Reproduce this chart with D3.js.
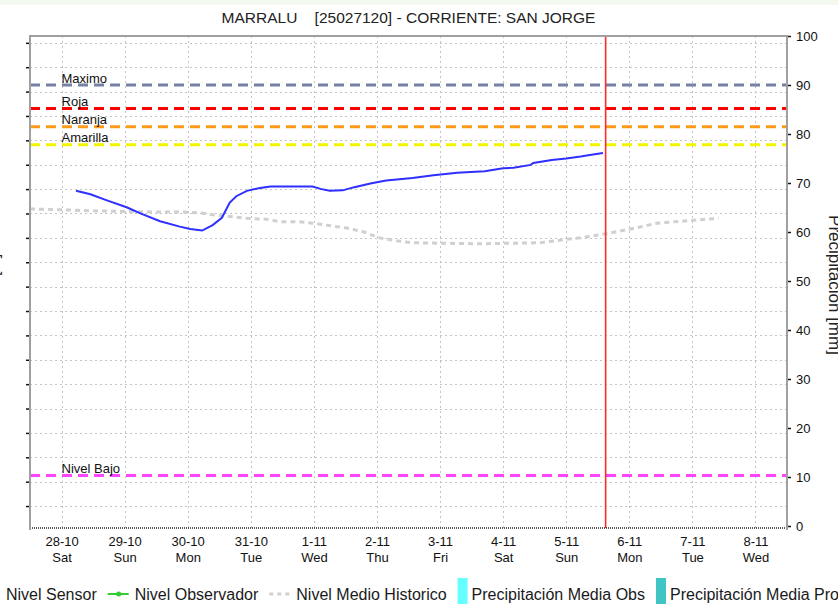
<!DOCTYPE html>
<html>
<head>
<meta charset="utf-8">
<title>MARRALU - Corriente San Jorge</title>
<script src="https://cdn.jsdelivr.net/npm/d3@7"></script>
<style>
  body { margin: 0; background: #fff; }
  svg { display: block; font-family: "Liberation Sans", Arial, sans-serif; }
</style>
</head>
<body>
<svg id="chart" width="838" height="604"></svg>
<script>
// eje X: dias
var dayDates = ["2017-10-28","2017-10-29","2017-10-30","2017-10-31","2017-11-01","2017-11-02",
                "2017-11-03","2017-11-04","2017-11-05","2017-11-06","2017-11-07","2017-11-08"];
var dayLabels = ["28-10","29-10","30-10","31-10","1-11","2-11","3-11","4-11","5-11","6-11","7-11","8-11"];
var dayNames = ["Sat","Sun","Mon","Tue","Wed","Thu","Fri","Sat","Sun","Mon","Tue","Wed"];

// eje derecho (precipitacion) y eje izquierdo (nivel, sin etiquetas)
var rightTicks = [0,10,20,30,40,50,60,70,80,90,100];
var leftTicks = [0,0.5,1,1.5,2,2.5,3,3.5,4,4.5,5,5.5,6,6.5,7,7.5,8,8.5,9,9.5];

// Nivel Sensor
var sensorTimes = ["2017-10-28 05:30","2017-10-28 11:00","2017-10-28 17:00","2017-10-29 01:00","2017-10-29 06:00",
  "2017-10-29 13:30","2017-10-29 21:00","2017-10-30 01:00","2017-10-30 05:30","2017-10-30 09:30","2017-10-30 13:00",
  "2017-10-30 16:00","2017-10-30 18:30","2017-10-30 22:30","2017-10-31 03:30","2017-10-31 07:30","2017-10-31 23:30",
  "2017-11-01 02:30","2017-11-01 06:00","2017-11-01 11:00","2017-11-01 15:00","2017-11-01 21:30","2017-11-02 03:30",
  "2017-11-02 13:30","2017-11-02 21:30","2017-11-03 06:30","2017-11-03 17:00","2017-11-04 00:00","2017-11-04 04:00",
  "2017-11-04 10:30","2017-11-04 11:30","2017-11-04 18:30","2017-11-05 00:00","2017-11-05 05:30","2017-11-05 09:00",
  "2017-11-05 14:00"];
var sensorValues = [68.4,67.7,66.5,65.0,63.8,
  62.2,61.1,60.6,60.3,61.4,62.9,
  66.0,67.3,68.4,69.0,69.3,69.3,
  68.8,68.4,68.5,69.1,69.9,70.5,
  71.0,71.6,72.1,72.4,73.0,73.1,
  73.7,74.1,74.7,75.0,75.4,75.7,
  76.1];

// Nivel Medio Historico
var historicoTimes = ["2017-10-27 12:00","2017-10-28 14:30","2017-10-29 09:30","2017-10-29 21:00","2017-10-30 04:30",
  "2017-10-30 09:30","2017-10-30 17:00","2017-10-30 22:30","2017-10-31 06:00","2017-10-31 11:00","2017-10-31 18:30",
  "2017-10-31 23:30","2017-11-01 12:30","2017-11-01 18:30","2017-11-02 01:00","2017-11-02 07:30","2017-11-02 13:30",
  "2017-11-03 02:30","2017-11-03 15:00","2017-11-04 14:00","2017-11-05 00:00","2017-11-05 06:30","2017-11-05 15:30",
  "2017-11-06 00:30","2017-11-06 10:30","2017-11-07 00:30","2017-11-07 10:00"];
var historicoValues = [64.7,64.3,64.1,64.1,63.9,
  63.5,63.1,62.8,62.6,62.1,62.1,
  61.8,60.8,60.1,58.8,58.2,57.8,
  57.7,57.6,57.8,58.5,58.9,59.7,
  60.6,61.8,62.4,62.8];

// umbrales
var umbralNames = ["Maximo","Roja","Naranja","Amarilla","Nivel Bajo"];
var umbralValues = [90, 85.2, 81.5, 77.8, 10.3];

var nowTime = "2017-11-05 15:00";

var legendNames = ["Nivel Sensor","Nivel Observador","Nivel Medio Historico",
                   "Precipitación Media Obs","Precipitación Media Pronosticada"];

var titleText = "MARRALU    [25027120] - CORRIENTE: SAN JORGE";

// ------------------------------------------------------------------
var svg = d3.select("#chart"),
    margin = {top: 36, right: 51, bottom: 76, left: 30},
    width = +svg.attr("width") - margin.left - margin.right,
    height = +svg.attr("height") - margin.top - margin.bottom,
    g = svg.append("g").attr("transform", "translate(" + margin.left + "," + margin.top + ")");

var parseTime = d3.utcParse("%Y-%m-%d %H:%M");
var parseDay = d3.utcParse("%Y-%m-%d");

var umbralColors = ["#7880a6", "#ff0000", "#ff9a1a", "#f4f400", "#ff44ff"];

// franja superior
svg.insert("rect", "g")
    .attr("width", 838).attr("height", 5)
    .attr("fill", "#f3f9ee");

var x = d3.scaleUtc()
    .domain([parseTime("2017-10-27 12:00"), parseTime("2017-11-08 12:00")])
    .range([0, width]);

var yR = d3.scaleLinear()
    .domain([0, 100])
    .range([height - 2, 0]);

var yL = d3.scaleLinear()
    .domain([-0.45, 9.64])
    .range([height, 0]);

var days = dayDates.map(parseDay);

// rejilla
g.append("g")
    .selectAll("line")
    .data(leftTicks)
    .join("line")
    .attr("x1", 0).attr("x2", width)
    .attr("y1", d => Math.round(yL(d)) + 0.5)
    .attr("y2", d => Math.round(yL(d)) + 0.5)
    .attr("stroke", "#c4c4c4")
    .attr("stroke-dasharray", "2,3");

g.append("g")
    .selectAll("line")
    .data(days)
    .join("line")
    .attr("x1", d => Math.round(x(d)) + 0.5)
    .attr("x2", d => Math.round(x(d)) + 0.5)
    .attr("y1", 0).attr("y2", height)
    .attr("stroke", "#c4c4c4")
    .attr("stroke-dasharray", "2,3");

// umbrales
umbralValues.forEach(function(v, i) {
  g.append("line")
      .attr("x1", 0).attr("x2", width)
      .attr("y1", yR(v)).attr("y2", yR(v))
      .attr("stroke", umbralColors[i])
      .attr("stroke-width", 3)
      .attr("stroke-dasharray", "10,6");
  g.append("text")
      .attr("x", x(days[0]))
      .attr("y", yR(v) - 2.5)
      .attr("font-size", 13)
      .attr("fill", "#111")
      .text(umbralNames[i]);
});

// nivel medio historico
var historico = historicoTimes.map((t, i) => ({date: parseTime(t), value: historicoValues[i]}));
var line = d3.line()
    .x(d => x(d.date))
    .y(d => yR(d.value));

g.append("path")
    .datum(historico)
    .attr("fill", "none")
    .attr("stroke", "#d0d0d0")
    .attr("stroke-width", 3)
    .attr("stroke-dasharray", "5,4")
    .attr("d", line);

// nivel sensor
var sensor = sensorTimes.map((t, i) => ({date: parseTime(t), value: sensorValues[i]}));
g.append("path")
    .datum(sensor)
    .attr("fill", "none")
    .attr("stroke", "#2f2fff")
    .attr("stroke-width", 2)
    .attr("d", line);

// hora actual
g.append("line")
    .attr("x1", x(parseTime(nowTime))).attr("x2", x(parseTime(nowTime)))
    .attr("y1", 0).attr("y2", height)
    .attr("stroke", "#ff2a2a")
    .attr("stroke-width", 1.6);

// bordes
g.append("line")
    .attr("x1", 0).attr("x2", width).attr("y1", 0).attr("y2", 0)
    .attr("stroke", "#a0a0a0").attr("stroke-width", 2);

g.append("line")
    .attr("x1", 0).attr("x2", width).attr("y1", height).attr("y2", height)
    .attr("stroke", "#222").attr("stroke-width", 1.5)
    .attr("stroke-dasharray", "1,1");

// eje izquierdo
g.append("g")
    .call(d3.axisLeft(yL).tickValues(leftTicks).tickSize(4).tickFormat(""))
    .call(a => a.select(".domain").remove())
    .call(a => a.selectAll(".tick line").attr("stroke", "#111").attr("stroke-width", 1.5));

g.append("line")
    .attr("x1", 0).attr("x2", 0).attr("y1", -1).attr("y2", height + 2)
    .attr("stroke", "#a0a0a0").attr("stroke-width", 2);

// eje derecho
g.append("g")
    .attr("transform", "translate(" + width + ",0)")
    .call(d3.axisRight(yR).tickValues(rightTicks).tickSize(4).tickPadding(5))
    .call(a => a.select(".domain").remove())
    .call(a => a.selectAll(".tick line").attr("stroke", "#111").attr("stroke-width", 1.5))
    .call(a => a.selectAll(".tick text")
        .attr("font-family", "Liberation Sans, Arial, sans-serif")
        .attr("font-size", 13).attr("fill", "#111"));

g.append("line")
    .attr("x1", width).attr("x2", width).attr("y1", -1).attr("y2", height + 2)
    .attr("stroke", "#a0a0a0").attr("stroke-width", 2);

// eje inferior
var xAxis = g.append("g")
    .attr("transform", "translate(0," + height + ")")
    .call(d3.axisBottom(x).tickValues(days).tickSize(0).tickFormat(""))
    .call(a => a.select(".domain").remove());

xAxis.selectAll(".tick").each(function(d, i) {
  var t = d3.select(this);
  t.append("text")
      .attr("y", 18).attr("fill", "#111")
      .attr("font-family", "Liberation Sans, Arial, sans-serif")
      .attr("font-size", 13).attr("text-anchor", "middle")
      .text(dayLabels[i]);
  t.append("text")
      .attr("y", 34).attr("fill", "#111")
      .attr("font-family", "Liberation Sans, Arial, sans-serif")
      .attr("font-size", 13).attr("text-anchor", "middle")
      .text(dayNames[i]);
});

// titulo
svg.append("text")
    .attr("x", margin.left + width / 2)
    .attr("y", 23)
    .attr("text-anchor", "middle")
    .attr("font-size", 15.5)
    .attr("fill", "#222")
    .style("white-space", "pre")
    .text(titleText);

// etiquetas de ejes
svg.append("text")
    .attr("transform", "translate(-1,285) rotate(-90)")
    .attr("text-anchor", "middle")
    .attr("font-size", 16)
    .attr("fill", "#222")
    .text("Nivel [m]");

svg.append("text")
    .attr("transform", "translate(829,285) rotate(90)")
    .attr("text-anchor", "middle")
    .attr("font-size", 17)
    .attr("fill", "#222")
    .text("Precipitación [mm]");

// leyenda
var legend = svg.append("g").attr("font-size", 16).attr("fill", "#1a1a1a");
var ly = 594;
var lx = -21;
legendNames.forEach(function(name, i) {
  var item = legend.append("g");
  var iconW;
  if (i < 3) {
    iconW = 21;
    var ln = item.append("line")
        .attr("x1", lx).attr("x2", lx + iconW)
        .attr("y1", ly).attr("y2", ly)
        .attr("stroke-width", 2);
    if (i === 0) ln.attr("stroke", "#2f2fff");
    if (i === 1) {
      ln.attr("stroke", "#33cc33");
      item.append("circle").attr("cx", lx + 11).attr("cy", ly).attr("r", 2.5).attr("fill", "#33cc33");
    }
    if (i === 2) ln.attr("stroke", "#d0d0d0").attr("stroke-width", 3).attr("stroke-dasharray", "4,4");
  } else {
    iconW = 10;
    item.append("rect")
        .attr("x", lx).attr("y", 578)
        .attr("width", iconW).attr("height", 26)
        .attr("fill", i === 3 ? "#66ffff" : "#40c4c4");
  }
  var tx = lx + iconW + (i < 3 ? 6 : 4);
  var txt = item.append("text")
      .attr("x", tx).attr("y", ly + 6)
      .text(name);
  lx = tx + txt.node().getComputedTextLength() + 11;
});
</script>
</body>
</html>
